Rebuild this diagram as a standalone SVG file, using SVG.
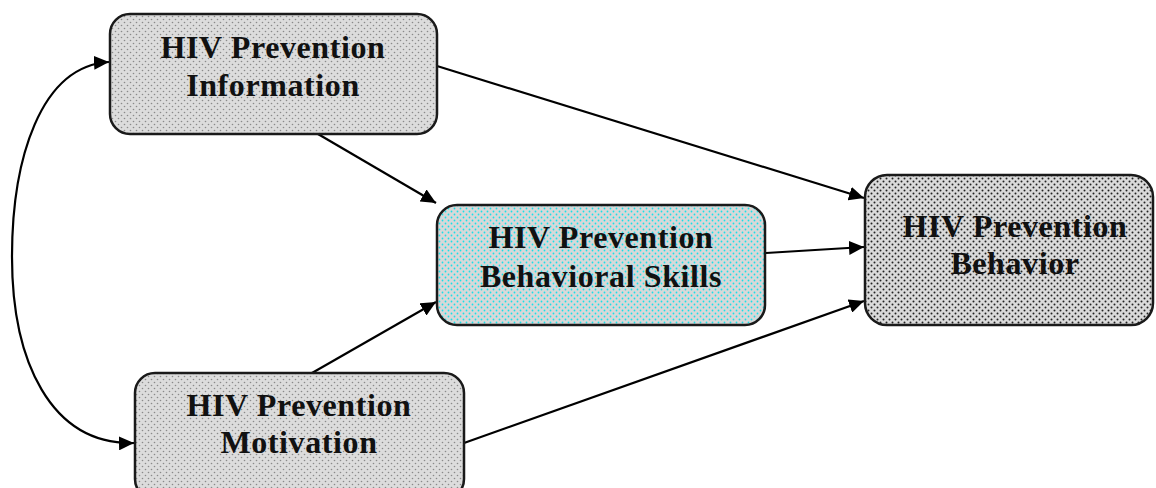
<svg xmlns="http://www.w3.org/2000/svg" width="1156" height="488" viewBox="0 0 1156 488">
<style>
.box{stroke:#1a1a1a;stroke-width:2.5}
.lbl{font-family:"Liberation Serif","Times New Roman",serif;font-weight:bold;font-size:32px;letter-spacing:0.6px;fill:#111;text-anchor:middle}
.con{fill:none;stroke:#000;stroke-width:2.2}
</style>
<defs>
<pattern id="dotGray" width="6" height="6" patternUnits="userSpaceOnUse">
<rect width="6" height="6" fill="#dcdcdc"/>
<circle cx="1.5" cy="1.5" r="0.8" fill="#8a8a8a"/>
<circle cx="4.5" cy="4.5" r="0.8" fill="#8a8a8a"/>
</pattern>
<pattern id="dotCyan" width="6" height="6" patternUnits="userSpaceOnUse">
<rect width="6" height="6" fill="#d8d8d8"/>
<circle cx="1.5" cy="1.5" r="0.9" fill="#19e0e8"/>
<circle cx="4.5" cy="4.5" r="0.9" fill="#19e0e8"/>
</pattern>
<pattern id="dotDark" width="6" height="6" patternUnits="userSpaceOnUse">
<rect width="6" height="6" fill="#dadada"/>
<circle cx="1.5" cy="1.5" r="1" fill="#222"/>
<circle cx="4.5" cy="4.5" r="1" fill="#222"/>
</pattern>
<marker id="arr" markerWidth="16" markerHeight="14" refX="15" refY="7" orient="auto" markerUnits="userSpaceOnUse">
<path d="M0,0 L15,7 L0,14 Z" fill="#000"/>
</marker>
</defs>
<g id="connectors">
<path class="con" d="M437,66 L864,198" marker-end="url(#arr)"/>
<path class="con" d="M318,134 L436,203" marker-end="url(#arr)"/>
<path class="con" d="M766,253 L864,247" marker-end="url(#arr)"/>
<path class="con" d="M312,373 L436,302" marker-end="url(#arr)"/>
<path class="con" d="M464,443 L864,301" marker-end="url(#arr)"/>
<path class="con" d="M12,257 C12,160 40,66 109,62" marker-end="url(#arr)"/>
<path class="con" d="M12,257 C12,360 50,445 134,443" marker-end="url(#arr)"/>
</g>
<g id="node-information">
<rect class="box" x="110" y="14" width="327" height="120" rx="20" fill="url(#dotGray)"/>
<text class="lbl" x="273" y="58">HIV Prevention</text>
<text class="lbl" x="273" y="96">Information</text>
</g>
<g id="node-skills">
<rect class="box" x="437" y="205" width="328" height="120" rx="20" fill="url(#dotCyan)"/>
<text class="lbl" x="601" y="248">HIV Prevention</text>
<text class="lbl" x="601" y="287">Behavioral Skills</text>
</g>
<g id="node-behavior">
<rect class="box" x="865" y="175" width="288" height="150" rx="22" fill="url(#dotDark)"/>
<text class="lbl" x="1015" y="237">HIV Prevention</text>
<text class="lbl" x="1015" y="274">Behavior</text>
</g>
<g id="node-motivation">
<rect class="box" x="135" y="373" width="329" height="126" rx="20" fill="url(#dotGray)"/>
<text class="lbl" x="299" y="416">HIV Prevention</text>
<text class="lbl" x="299" y="453">Motivation</text>
</g>
</svg>
